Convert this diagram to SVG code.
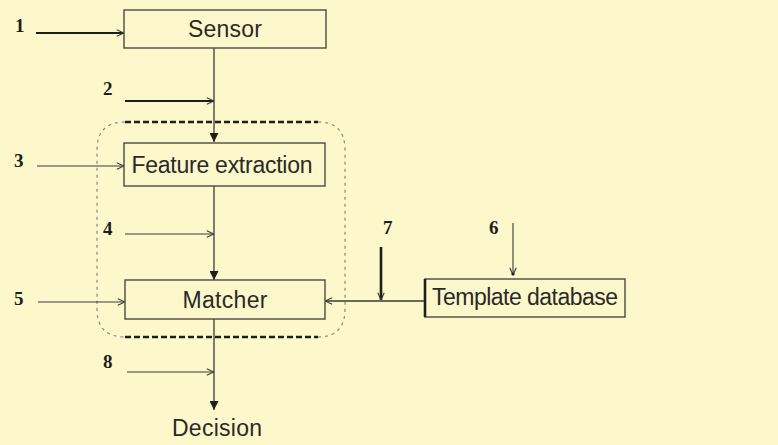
<svg xmlns="http://www.w3.org/2000/svg" width="778" height="445" viewBox="0 0 778 445">
<defs>
<style>
.box{fill:none;stroke:#4a4a42;stroke-width:1.4}
.lbl{font-family:"Liberation Sans",Arial,sans-serif;font-size:23px;fill:#2a2a26;text-anchor:middle}
.num{font-family:"Liberation Serif","Times New Roman",serif;font-weight:bold;font-size:19px;fill:#1e1e1a}
.ln{fill:none;stroke:#3a3a34;stroke-width:1.3}
.thin{fill:none;stroke:#3a3a34;stroke-width:1.1}
.thick{fill:none;stroke:#1e1e1a;stroke-width:2.2}
.bdash{fill:none;stroke:#1e1e1a;stroke-width:2.4;stroke-dasharray:6 3}
.gdash{fill:none;stroke:#8a8a78;stroke-width:1.2;stroke-dasharray:3 4}
</style>
<marker id="open" viewBox="0 0 10 10" refX="10" refY="5" markerWidth="8" markerHeight="8" markerUnits="userSpaceOnUse" orient="auto">
<path d="M1,1 L10,5 L1,9" fill="none" stroke="#3a3a34" stroke-width="1.4"/>
</marker>
<marker id="fill" viewBox="0 0 10 10" refX="10" refY="5" markerWidth="9" markerHeight="9" markerUnits="userSpaceOnUse" orient="auto">
<path d="M0,0 L10,5 L0,10 Z" fill="#1e1e1a"/>
</marker>
</defs>
<rect x="0" y="0" width="778" height="445" fill="#fcf8cb"/>

<g id="region">
<path class="gdash" d="M125,122 Q97,122 97,150 L97,309 Q97,337 125,337 M318,122 Q345,122 345,150 L345,309 Q345,337 318,337"/>
<line class="bdash" x1="125" y1="122" x2="318" y2="122"/>
<line class="bdash" x1="125" y1="337" x2="318" y2="337"/>
</g>

<g id="connectors">
<line class="ln" x1="214" y1="48" x2="214" y2="142" marker-end="url(#fill)"/>
<line class="ln" x1="214" y1="186" x2="214" y2="280" marker-end="url(#fill)"/>
<line class="ln" x1="214" y1="319" x2="214" y2="410" marker-end="url(#fill)"/>
<line class="thick" x1="36" y1="33" x2="124" y2="33" marker-end="url(#open)"/>
<line class="thick" x1="125" y1="101" x2="214" y2="101" marker-end="url(#open)"/>
<line class="thin" x1="37" y1="166" x2="124" y2="166" marker-end="url(#open)"/>
<line class="thin" x1="125" y1="234" x2="214" y2="234" marker-end="url(#open)"/>
<line class="thin" x1="38" y1="302" x2="125" y2="302" marker-end="url(#open)"/>
<line class="thin" x1="127" y1="372" x2="214" y2="372" marker-end="url(#open)"/>
<line class="ln" x1="425" y1="301" x2="325" y2="301" marker-end="url(#open)"/>
<line x1="381" y1="247" x2="381" y2="300" stroke="#1e1e1a" stroke-width="2.6" marker-end="url(#open)"/>
<line class="thin" x1="513" y1="223" x2="513" y2="275" marker-end="url(#open)"/>
<circle cx="513" cy="274" r="1.6" fill="#1e1e1a"/>
</g>

<g id="sensor">
<rect class="box" x="124" y="10" width="202" height="38"/>
<text class="lbl" x="225" y="37" textLength="74">Sensor</text>
</g>
<g id="feature-extraction">
<rect class="box" x="124" y="143" width="201" height="43"/>
<text class="lbl" x="222" y="173" textLength="181">Feature  extraction</text>
</g>
<g id="matcher">
<rect class="box" x="125" y="280" width="200" height="39"/>
<text class="lbl" x="225" y="308" textLength="85">Matcher</text>
</g>
<g id="template-database">
<rect class="box" x="425" y="279" width="200" height="38"/>
<line x1="425" y1="279" x2="425" y2="317" stroke="#1e1e1a" stroke-width="2.6"/>
<text class="lbl" x="525" y="305" textLength="186">Template database</text>
</g>
<g id="decision">
<text class="lbl" x="217" y="436" textLength="90">Decision</text>
</g>

<g id="numbers">
<text class="num" x="15" y="32">1</text>
<text class="num" x="103" y="95">2</text>
<text class="num" x="14" y="167">3</text>
<text class="num" x="103" y="235">4</text>
<text class="num" x="14" y="305">5</text>
<text class="num" x="489" y="234" font-size="17">6</text>
<text class="num" x="383" y="234" font-size="17">7</text>
<text class="num" x="103" y="368">8</text>
</g>
</svg>
